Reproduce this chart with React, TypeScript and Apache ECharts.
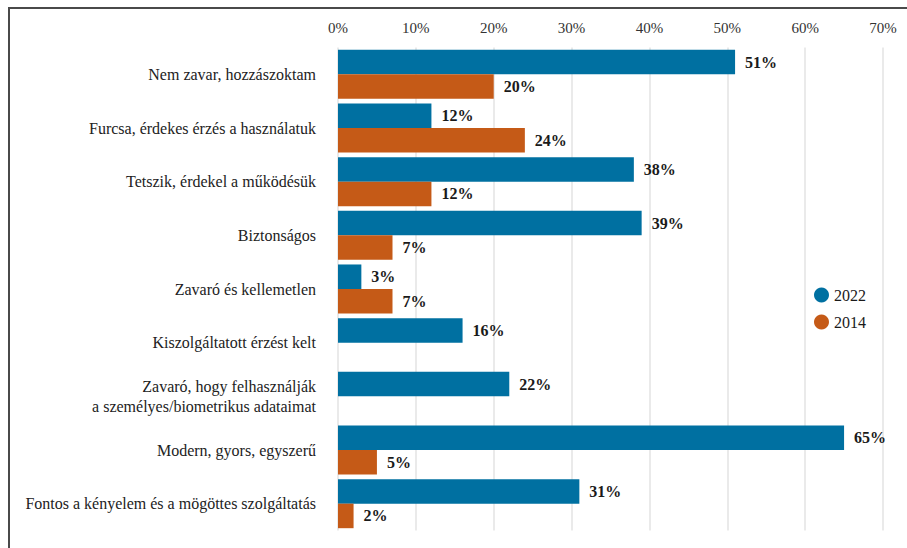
import React, { useEffect, useRef } from "react";
import * as echarts from "echarts";

const categories = [
  "Nem zavar, hozzászoktam",
  "Furcsa, érdekes érzés a használatuk",
  "Tetszik, érdekel a működésük",
  "Biztonságos",
  "Zavaró és kellemetlen",
  "Kiszolgáltatott érzést kelt",
  "Zavaró, hogy felhasználják\na személyes/biometrikus adataimat",
  "Modern, gyors, egyszerű",
  "Fontos a kényelem és a mögöttes szolgáltatás",
];
const values2022 = [51, 12, 38, 39, 3, 16, 22, 65, 31];
const values2014: (number | null)[] = [20, 24, 12, 7, 7, null, null, 5, 2];
const seriesNames = ["2022", "2014"];

const FONT = "Liberation Serif";

export default function App() {
  const ref = useRef<HTMLDivElement>(null);
  useEffect(() => {
    if (!ref.current) return;
    const chart = echarts.init(ref.current, null, { renderer: "svg" });
    const labelStyle = {
      show: true,
      position: "right" as const,
      distance: 10,
      formatter: "{c}%",
      fontFamily: FONT,
      fontSize: 16,
      fontWeight: "bold" as const,
      color: "#1a1a1a",
    };
    chart.setOption({
      animation: false,
      backgroundColor: "#ffffff",
      textStyle: { fontFamily: FONT },
      graphic: [
        {
          type: "rect",
          shape: { x: 9, y: 8, width: 1000, height: 1000 },
          style: { fill: "none", stroke: "#4a4a4a", lineWidth: 2 },
          silent: true,
        },
      ],
      legend: {
        orient: "vertical",
        left: 809,
        top: 282,
        icon: "circle",
        itemWidth: 15,
        itemHeight: 15,
        itemGap: 11,
        textStyle: { fontFamily: FONT, fontSize: 16, color: "#1a1a1a" },
        data: seriesNames,
      },
      grid: { left: 338, right: 24, top: 47.5, bottom: 17.5, containLabel: false },
      xAxis: {
        type: "value",
        position: "top",
        min: 0,
        max: 70,
        interval: 10,
        axisLine: { show: false },
        axisTick: { show: false },
        axisLabel: {
          formatter: "{value}%",
          fontFamily: FONT,
          fontSize: 15,
          color: "#333333",
          margin: 12,
        },
        splitLine: { show: true, lineStyle: { color: "#e3e3e3", width: 1.5 } },
      },
      yAxis: {
        type: "category",
        inverse: true,
        data: categories,
        axisLine: { show: false },
        axisTick: { show: false },
        axisLabel: {
          fontFamily: FONT,
          fontSize: 16,
          color: "#222222",
          margin: 22,
          lineHeight: 20,
        },
      },
      series: [
        {
          name: seriesNames[0],
          type: "bar",
          data: values2022,
          itemStyle: { color: "#0070a1" },
          barCategoryGap: "8.6%",
          barGap: "0%",
          label: labelStyle,
        },
        {
          name: seriesNames[1],
          type: "bar",
          data: values2014,
          itemStyle: { color: "#c55a17" },
          barCategoryGap: "8.6%",
          barGap: "0%",
          label: labelStyle,
        },
      ],
    });
    return () => chart.dispose();
  }, []);
  return (
    <div
      ref={ref}
      style={{ position: "fixed", left: 0, top: 0, width: 907, height: 548 }}
    />
  );
}
